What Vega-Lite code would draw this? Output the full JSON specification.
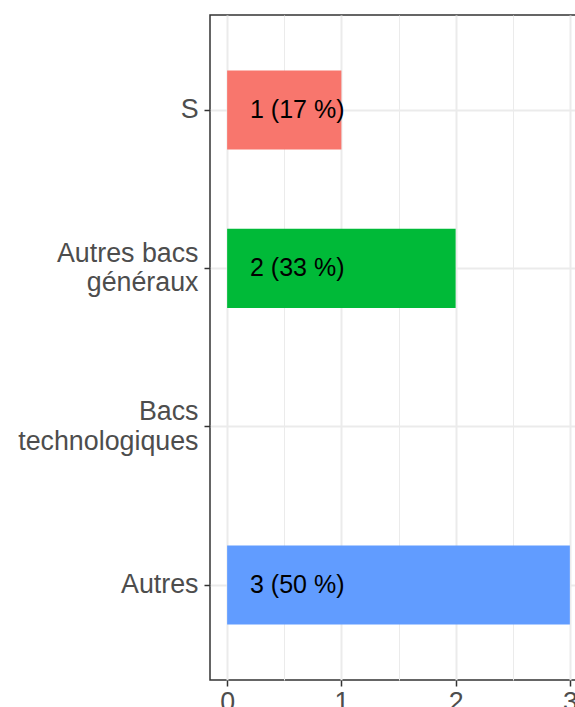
{
  "$schema": "https://vega.github.io/schema/vega-lite/v6.json",
  "width": 377,
  "height": 665,
  "autosize": {"type": "none"},
  "padding": {"left": 210, "top": 15, "right": 0, "bottom": 27},
  "background": "white",
  "config": {
    "view": {"stroke": "#333333", "strokeWidth": 1.5},
    "font": "Liberation Sans"
  },
  "data": {
    "values": [
      {"categorie": "S", "n": 1, "etiquette": "1 (17 %)"},
      {"categorie": "Autres bacs généraux", "n": 2, "etiquette": "2 (33 %)"},
      {"categorie": "Bacs technologiques", "n": 0, "etiquette": ""},
      {"categorie": "Autres", "n": 3, "etiquette": "3 (50 %)"}
    ]
  },
  "layer": [
    {
      "mark": {"type": "bar"},
      "encoding": {
        "y": {
          "field": "categorie",
          "type": "nominal",
          "sort": ["S", "Autres bacs généraux", "Bacs technologiques", "Autres"],
          "scale": {"paddingInner": 0.5, "paddingOuter": 0.35},
          "axis": {
            "title": null,
            "domain": false,
            "grid": true,
            "gridColor": "#EBEBEB",
            "gridWidth": 2,
            "bandPosition": 0.5,
            "ticks": true,
            "tickColor": "#333333",
            "tickWidth": 1.5,
            "tickSize": 6,
            "labelPadding": 6,
            "labelFontSize": 26.8,
            "labelColor": "#4D4D4D",
            "labelLimit": 300,
            "labelLineHeight": 29.5,
            "labelOffset": {
              "condition": {"test": "datum.value == 'Autres bacs généraux' || datum.value == 'Bacs technologiques'", "value": -14.5},
              "value": 0
            },
            "labelExpr": "datum.value == 'Autres bacs généraux' ? ['Autres bacs', 'généraux'] : datum.value == 'Bacs technologiques' ? ['Bacs', 'technologiques'] : datum.value"
          }
        },
        "x": {
          "field": "n",
          "type": "quantitative",
          "scale": {"domain": [-0.15, 3.15], "nice": false, "zero": false},
          "axis": {
            "title": null,
            "domain": false,
            "values": [0, 1, 2, 3],
            "format": "d",
            "grid": true,
            "gridColor": "#EBEBEB",
            "gridWidth": 2,
            "tickColor": "#333333",
            "tickWidth": 1.5,
            "tickSize": 6,
            "labelPadding": 3,
            "labelFontSize": 26.8,
            "labelColor": "#4D4D4D"
          }
        },
        "x2": {"datum": 0},
        "color": {
          "field": "categorie",
          "type": "nominal",
          "scale": {
            "domain": ["S", "Autres bacs généraux", "Autres", "Bacs technologiques"],
            "range": ["#F8766D", "#00BA38", "#619CFF", "#FFFFFF"]
          },
          "legend": null
        }
      }
    },
    {
      "mark": {"type": "text", "align": "left", "baseline": "middle", "fontSize": 25, "color": "black"},
      "encoding": {
        "y": {
          "field": "categorie",
          "type": "nominal",
          "sort": ["S", "Autres bacs généraux", "Bacs technologiques", "Autres"]
        },
        "x": {
          "datum": 0.2,
          "type": "quantitative",
          "axis": {
            "orient": "top",
            "values": [0.5, 1.5, 2.5],
            "grid": true,
            "gridColor": "#EBEBEB",
            "gridWidth": 1,
            "labels": false,
            "ticks": false,
            "domain": false,
            "title": null
          }
        },
        "text": {"field": "etiquette"}
      }
    }
  ],
  "resolve": {"axis": {"x": "independent"}}
}
